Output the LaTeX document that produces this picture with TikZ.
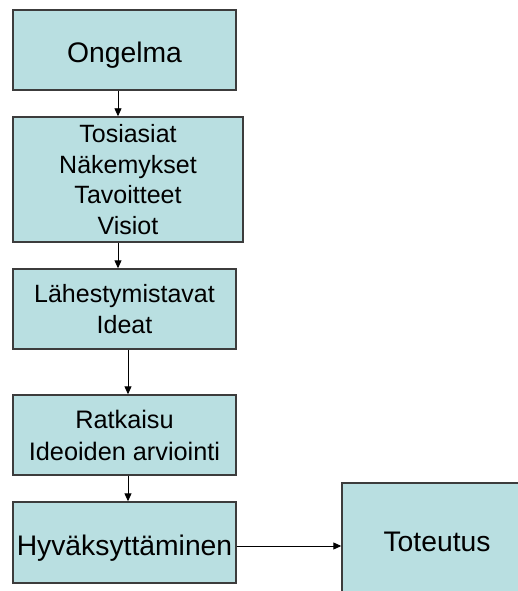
\documentclass[tikz,border=0pt]{standalone}
\usepackage{fontspec}
\setmainfont{Liberation Sans}
\usetikzlibrary{arrows.meta}
\definecolor{boxfill}{HTML}{B9DFE1}
\definecolor{boxline}{HTML}{3C3C3C}
\begin{document}
\begin{tikzpicture}[x=1pt,y=-1pt,
  stagebox/.style={draw=boxline,line width=1.4pt,fill=boxfill,inner sep=0pt,
    align=center,text=black},
  flow/.style={-{Triangle[length=8pt,width=7pt]},line width=0.9pt,black},
  big/.style={font=\fontsize{28.3}{34}\selectfont,text height=26pt,text depth=0pt},
  mid/.style={font=\fontsize{25}{30.7}\selectfont}]
\useasboundingbox (0,0) rectangle (518,591);
\begin{scope}
\clip (0,0) rectangle (518,591);
\node[stagebox,big,minimum width=223pt,minimum height=80pt] (b1) at (124.5,50) {Ongelma};
\node[stagebox,mid,minimum width=230pt,minimum height=125pt] (b2) at (128,179.5)
  {Tosiasiat\\Näkemykset\\Tavoitteet\\Visiot};
\node[stagebox,mid,minimum width=223pt,minimum height=80pt] (b3) at (124.5,309)
  {Lähestymistavat\\Ideat};
\node[stagebox,font=\fontsize{25.3}{32}\selectfont,minimum width=223pt,minimum height=80pt] (b4) at (124.5,435)
  {Ratkaisu\\Ideoiden arviointi};
\node[stagebox,big,minimum width=223pt,minimum height=81pt] (b5) at (124.5,542.5)
  {Hyväksyttäminen};
\node[stagebox,big,minimum width=190pt,minimum height=110pt] (b6) at (437,538)
  {Toteutus};
\end{scope}
\draw[flow] ([xshift=-6.5pt]b1.south) -- ([xshift=-6.5pt]b1.south |- b2.north);
\draw[flow] ([xshift=-10pt]b2.south) -- ([xshift=-10pt]b2.south |- b3.north);
\draw[flow] ([xshift=3.5pt]b3.south) -- ([xshift=3.5pt]b3.south |- b4.north);
\draw[flow] ([xshift=3.5pt]b4.south) -- ([xshift=3.5pt]b4.south |- b5.north);
\draw[flow] ([yshift=-3.5pt]b5.east) -- ([yshift=-3.5pt]b5.east -| b6.west);
\end{tikzpicture}
\end{document}
